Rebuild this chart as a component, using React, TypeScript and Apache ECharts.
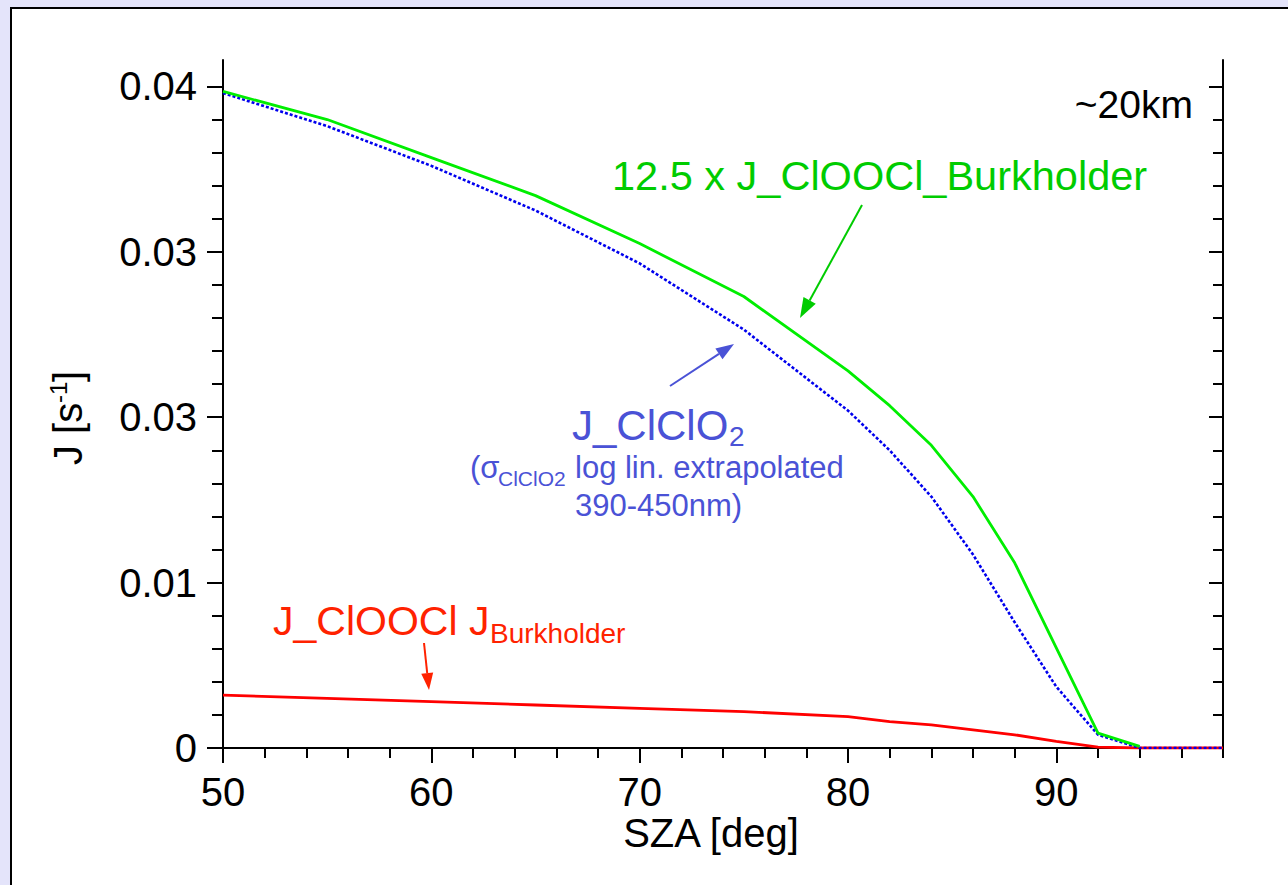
import React, { useEffect, useRef } from "react";
import * as echarts from "echarts";

// ---- data ----
const greenSza = [50, 55, 60, 65, 70, 75, 80, 82, 84, 86, 88, 92, 94];
const greenJ = [0.0397, 0.038, 0.0357, 0.0334, 0.0305, 0.0273, 0.0228, 0.0207, 0.0183, 0.0152, 0.0112, 0.0009, 0.0001];

const blueSza = [50, 55, 60, 65, 70, 75, 80, 82, 84, 86, 88, 90, 92, 94, 96, 98];
const blueJ = [0.0396, 0.0376, 0.0352, 0.0325, 0.0293, 0.0253, 0.0204, 0.018, 0.0152, 0.0117, 0.0076, 0.0037, 0.0008, 0, 0, 0];

const redSza = [50, 55, 60, 65, 70, 75, 80, 82, 84, 86, 88, 90, 92, 94, 96, 98];
const redJ = [0.0032, 0.003, 0.0028, 0.0026, 0.0024, 0.0022, 0.0019, 0.0016, 0.0014, 0.0011, 0.0008, 0.0004, 0.00005, 0, 0, 0];

const xMajor = [50, 60, 70, 80, 90];
const xMinor = [52, 54, 56, 58, 62, 64, 66, 68, 72, 74, 76, 78, 82, 84, 86, 88, 92, 94, 96, 98];
const yMajor = [0, 0.01, 0.02, 0.03, 0.04];
const yTickText = ["0", "0.01", "0.03", "0.03", "0.04"];
const yMinor = [0.002, 0.004, 0.006, 0.008, 0.012, 0.014, 0.016, 0.018, 0.022, 0.024, 0.026, 0.028, 0.032, 0.034, 0.036, 0.038];

const FONT = "'Liberation Sans', Arial, Helvetica, sans-serif";
const GREEN_TXT = "#00cc00";
const BLUE_TXT = "#4a52d6";
const RED_TXT = "#ff2200";

function arrow(x1: number, y1: number, x2: number, y2: number, color: string, hl: number, hw: number, lw: number) {
  const dx = x2 - x1, dy = y2 - y1;
  const len = Math.sqrt(dx * dx + dy * dy);
  const ux = dx / len, uy = dy / len;
  const bx = x2 - ux * hl, by = y2 - uy * hl;
  const px = -uy, py = ux;
  return [
    { type: "line", shape: { x1, y1, x2: bx, y2: by }, style: { stroke: color, lineWidth: lw }, z: 10 },
    {
      type: "polygon",
      shape: { points: [[x2, y2], [bx + px * hw / 2, by + py * hw / 2], [bx - px * hw / 2, by - py * hw / 2]] },
      style: { fill: color },
      z: 10,
    },
  ];
}

function txt(text: string, x: number, y: number, size: number, color: string, align = "left", extra: any = {}) {
  return {
    type: "text",
    x,
    y,
    z: 10,
    ...extra,
    style: { text, fontSize: size, fontFamily: FONT, fill: color, align, verticalAlign: "middle" },
  };
}

export default function App() {
  const ref = useRef<HTMLDivElement>(null);
  useEffect(() => {
    if (!ref.current) return;
    const chart = echarts.init(ref.current, undefined, { renderer: "svg" });
    const axisLineStyle = { color: "#000", width: 2 };
    const tickStyle = { color: "#000", width: 2 };
    const xBase = { type: "value", min: 50, max: 98, gridIndex: 0, splitLine: { show: false } };
    const yBase = { type: "value", min: 0, max: 0.0416, gridIndex: 0, splitLine: { show: false } };
    const option: any = {
      animation: false,
      backgroundColor: "transparent",
      grid: { left: 223, top: 60, width: 1000, height: 688, containLabel: false },
      xAxis: [
        {
          ...xBase,
          position: "bottom",
          axisLine: { show: true, lineStyle: axisLineStyle },
          axisTick: { show: true, customValues: xMajor, length: 15, lineStyle: tickStyle },
          axisLabel: { show: true, customValues: xMajor, fontSize: 40, fontFamily: FONT, color: "#000", margin: 24 },
        },
        {
          ...xBase,
          position: "bottom",
          axisLine: { show: false },
          axisTick: { show: true, customValues: xMinor, length: 10, lineStyle: tickStyle },
          axisLabel: { show: false },
        },
        {
          ...xBase,
          position: "top",
          axisLine: { show: true, lineStyle: axisLineStyle },
          axisTick: { show: true, inside: true, customValues: xMajor, length: 15, lineStyle: tickStyle },
          axisLabel: { show: false },
        },
        {
          ...xBase,
          position: "top",
          axisLine: { show: false },
          axisTick: { show: true, inside: true, customValues: xMinor, length: 10, lineStyle: tickStyle },
          axisLabel: { show: false },
        },
      ],
      yAxis: [
        {
          ...yBase,
          position: "left",
          axisLine: { show: true, lineStyle: axisLineStyle },
          axisTick: { show: true, customValues: yMajor, length: 16, lineStyle: tickStyle },
          axisLabel: {
            show: true,
            customValues: yMajor,
            fontSize: 40,
            fontFamily: FONT,
            color: "#000",
            margin: 26,
            formatter: (v: number) => yTickText[Math.round(v / 0.01)] ?? "",
          },
        },
        {
          ...yBase,
          position: "left",
          axisLine: { show: false },
          axisTick: { show: true, customValues: yMinor, length: 11, lineStyle: tickStyle },
          axisLabel: { show: false },
        },
        {
          ...yBase,
          position: "right",
          axisLine: { show: true, lineStyle: axisLineStyle },
          axisTick: { show: true, inside: true, customValues: yMajor, length: 14, lineStyle: tickStyle },
          axisLabel: { show: false },
        },
        {
          ...yBase,
          position: "right",
          axisLine: { show: false },
          axisTick: { show: true, inside: true, customValues: yMinor, length: 10, lineStyle: tickStyle },
          axisLabel: { show: false },
        },
      ],
      series: [
        {
          type: "line",
          name: "J_ClOOCl",
          xAxisIndex: 0,
          yAxisIndex: 0,
          data: redSza.map((x, i) => [x, redJ[i]]),
          showSymbol: false,
          lineStyle: { color: "#ff0000", width: 2.8 },
          z: 3,
        },
        {
          type: "line",
          name: "J_ClClO2",
          xAxisIndex: 0,
          yAxisIndex: 0,
          data: blueSza.map((x, i) => [x, blueJ[i]]),
          showSymbol: false,
          lineStyle: { color: "#0000ee", width: 2.6, type: [3, 2] },
          z: 4,
        },
        {
          type: "line",
          name: "12.5 x J_ClOOCl_Burkholder",
          xAxisIndex: 0,
          yAxisIndex: 0,
          data: greenSza.map((x, i) => [x, greenJ[i]]),
          showSymbol: false,
          lineStyle: { color: "#00ee00", width: 2.8 },
          z: 5,
        },
      ],
      graphic: [
        // axis titles
        txt("SZA [deg]", 711, 833, 40, "#000", "center"),
        txt("J [s", 68, 465, 40, "#000", "left", { rotation: Math.PI / 2 }),
        txt("-1", 58, 403, 24, "#000", "left", { rotation: Math.PI / 2 }),
        txt("]", 68, 382, 40, "#000", "left", { rotation: Math.PI / 2 }),
        // annotations
        txt("~20km", 1193, 104, 39, "#000", "right"),
        txt("12.5 x J_ClOOCl_Burkholder", 612, 175, 41.5, GREEN_TXT),
        ...arrow(862, 205, 800, 318, GREEN_TXT, 20, 14, 2),
        txt("J_ClClO", 572, 425, 42, BLUE_TXT),
        txt("2", 729, 436, 28, BLUE_TXT),
        txt("(σ", 470, 467, 31, BLUE_TXT),
        txt("ClClO2", 498, 478, 21, BLUE_TXT),
        txt("log lin. extrapolated", 575, 467, 31, BLUE_TXT),
        txt("390-450nm)", 575, 505, 31, BLUE_TXT),
        ...arrow(670, 386, 734, 344, BLUE_TXT, 18, 13, 2),
        txt("J_ClOOCl J", 273, 621, 41, RED_TXT),
        txt("Burkholder", 490, 633, 28, RED_TXT),
        ...arrow(424, 643, 429, 690, RED_TXT, 17, 12, 2),
      ],
    };
    chart.setOption(option);
    return () => chart.dispose();
  }, []);

  return (
    <div style={{ position: "fixed", left: 0, top: 0, width: 1288, height: 885, background: "#e4e4fa", overflow: "hidden" }}>
      <div
        style={{
          position: "absolute",
          left: 10,
          top: 7,
          width: 1320,
          height: 920,
          background: "#fff",
          border: "2px solid #000",
        }}
      />
      <div ref={ref} style={{ position: "absolute", left: 0, top: 0, width: 1288, height: 885 }} />
    </div>
  );
}
